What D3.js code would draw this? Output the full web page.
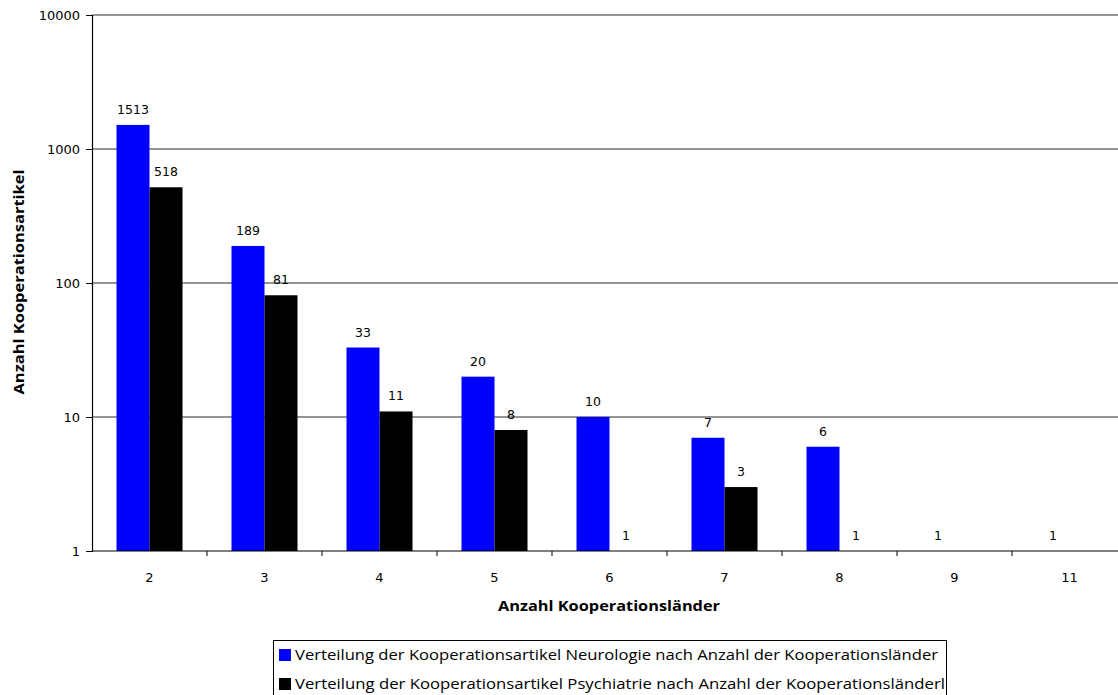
<!DOCTYPE html>
<html>
<head>
<meta charset="utf-8">
<script src="https://cdn.jsdelivr.net/npm/d3@7"></script>
<style>
  html, body { margin: 0; padding: 0; background: #fff; overflow: hidden; }
  svg { display: block; }
</style>
</head>
<body>
<svg id="chart" width="1118" height="695"></svg>
<script>
// Number of cooperating countries per article
const categories = ["2", "3", "4", "5", "6", "7", "8", "9", "11"];
// Cooperation articles, Neurology
const neurologie = [1513, 189, 33, 20, 10, 7, 6, 1, 1];
// Cooperation articles, Psychiatry (no articles for 9 and 11 countries)
const psychiatrie = [518, 81, 11, 8, 1, 3, 1, null, null];
const yTicks = [1, 10, 100, 1000, 10000];
const seriesNames = [
  "Verteilung der Kooperationsartikel Neurologie nach Anzahl der Kooperationsländer",
  "Verteilung der Kooperationsartikel Psychiatrie nach Anzahl der Kooperationsländerl"
];
const seriesColors = ["#0000ff", "#000000"];

const svg = d3.select("#chart");
const plotLeft = 92, plotTop = 15, plotBottom = 551, step = 115;
const plotRight = plotLeft + step * categories.length;

const x = d3.scaleBand().domain(categories).range([plotLeft, plotRight]).paddingInner(0).paddingOuter(0);
const inner = d3.scaleBand().domain([0, 1]).range([0, 66]);
const y = d3.scaleLog().domain([1, 10000]).range([plotBottom, plotTop]);

const tickFont = "'DejaVu Sans', Verdana, sans-serif";
const titleFont = "'Open Sans', 'DejaVu Sans', sans-serif";

// Horizontal gridlines at each decade
svg.append("g").selectAll("line").data(yTicks.slice(1)).join("line")
  .attr("x1", plotLeft).attr("x2", plotRight)
  .attr("y1", d => y(d)).attr("y2", d => y(d))
  .attr("stroke", "#2a2a2a").attr("stroke-width", 1.2);

// Bars
const series = [neurologie, psychiatrie];
const barGroup = svg.append("g");
series.forEach((vals, s) => {
  const data = categories.map((c, i) => ({c, v: vals[i]})).filter(d => d.v != null);
  barGroup.selectAll(null).data(data).join("rect")
    .attr("x", d => x(d.c) + (x.bandwidth() - 66) / 2 + inner(s))
    .attr("y", d => y(d.v))
    .attr("width", inner.bandwidth())
    .attr("height", d => y(1) - y(d.v))
    .attr("fill", seriesColors[s]);
});

// Value labels
series.forEach((vals, s) => {
  const data = categories.map((c, i) => ({c, v: vals[i]})).filter(d => d.v != null);
  svg.append("g").selectAll("text").data(data).join("text")
    .attr("x", d => x(d.c) + (x.bandwidth() - 66) / 2 + inner(s) + inner.bandwidth() / 2)
    .attr("y", d => y(d.v) - 11)
    .attr("text-anchor", "middle")
    .attr("font-family", tickFont).attr("font-size", 12.5).attr("fill", "#000")
    .text(d => d.v);
});

// Y axis
const yAxis = d3.axisLeft(y).tickValues(yTicks).tickFormat(d3.format("d")).tickSize(6).tickPadding(6);
const gy = svg.append("g").attr("transform", `translate(${plotLeft},0)`).call(yAxis);
gy.select(".domain").attr("stroke", "#000").attr("stroke-width", 1.2);
gy.selectAll(".tick line").attr("stroke", "#000");
gy.selectAll(".tick text").attr("font-family", tickFont).attr("font-size", 13).attr("fill", "#000");

// X axis with ticks at band boundaries
svg.append("line").attr("x1", plotLeft).attr("x2", plotRight).attr("y1", plotBottom).attr("y2", plotBottom)
  .attr("stroke", "#000").attr("stroke-width", 1.2);
svg.append("g").selectAll("line").data(categories.slice(1)).join("line")
  .attr("x1", d => x(d)).attr("x2", d => x(d))
  .attr("y1", plotBottom).attr("y2", plotBottom + 5).attr("stroke", "#000");
svg.append("g").selectAll("text").data(categories).join("text")
  .attr("x", d => x(d) + x.bandwidth() / 2)
  .attr("y", 582)
  .attr("text-anchor", "middle")
  .attr("font-family", tickFont).attr("font-size", 13).attr("fill", "#000")
  .text(d => d);

// Axis titles
svg.append("text").attr("x", 609).attr("y", 611).attr("text-anchor", "middle")
  .attr("font-family", titleFont).attr("font-size", 15).attr("font-weight", "bold")
  .attr("textLength", 222).attr("lengthAdjust", "spacingAndGlyphs")
  .text("Anzahl Kooperationsländer");
svg.append("text")
  .attr("transform", `translate(24,282) rotate(-90)`)
  .attr("text-anchor", "middle")
  .attr("font-family", titleFont).attr("font-size", 15).attr("font-weight", "bold")
  .attr("textLength", 225).attr("lengthAdjust", "spacingAndGlyphs")
  .text("Anzahl Kooperationsartikel");

// Legend
const legend = svg.append("g");
legend.append("rect").attr("x", 273.5).attr("y", 640.5).attr("width", 673).attr("height", 60)
  .attr("fill", "#fff").attr("stroke", "#000").attr("stroke-width", 1);
seriesNames.forEach((name, i) => {
  const cy = 655 + i * 29;
  legend.append("rect").attr("x", 279).attr("y", cy - 6).attr("width", 12).attr("height", 12)
    .attr("fill", seriesColors[i]);
  legend.append("text").attr("x", 295).attr("y", cy + 5)
    .attr("font-family", "'Open Sans', 'Liberation Sans', sans-serif").attr("font-size", 15)
    .attr("textLength", i === 0 ? 643 : 650).attr("lengthAdjust", "spacingAndGlyphs")
    .attr("fill", "#000")
    .text(name);
});
</script>
</body>
</html>
